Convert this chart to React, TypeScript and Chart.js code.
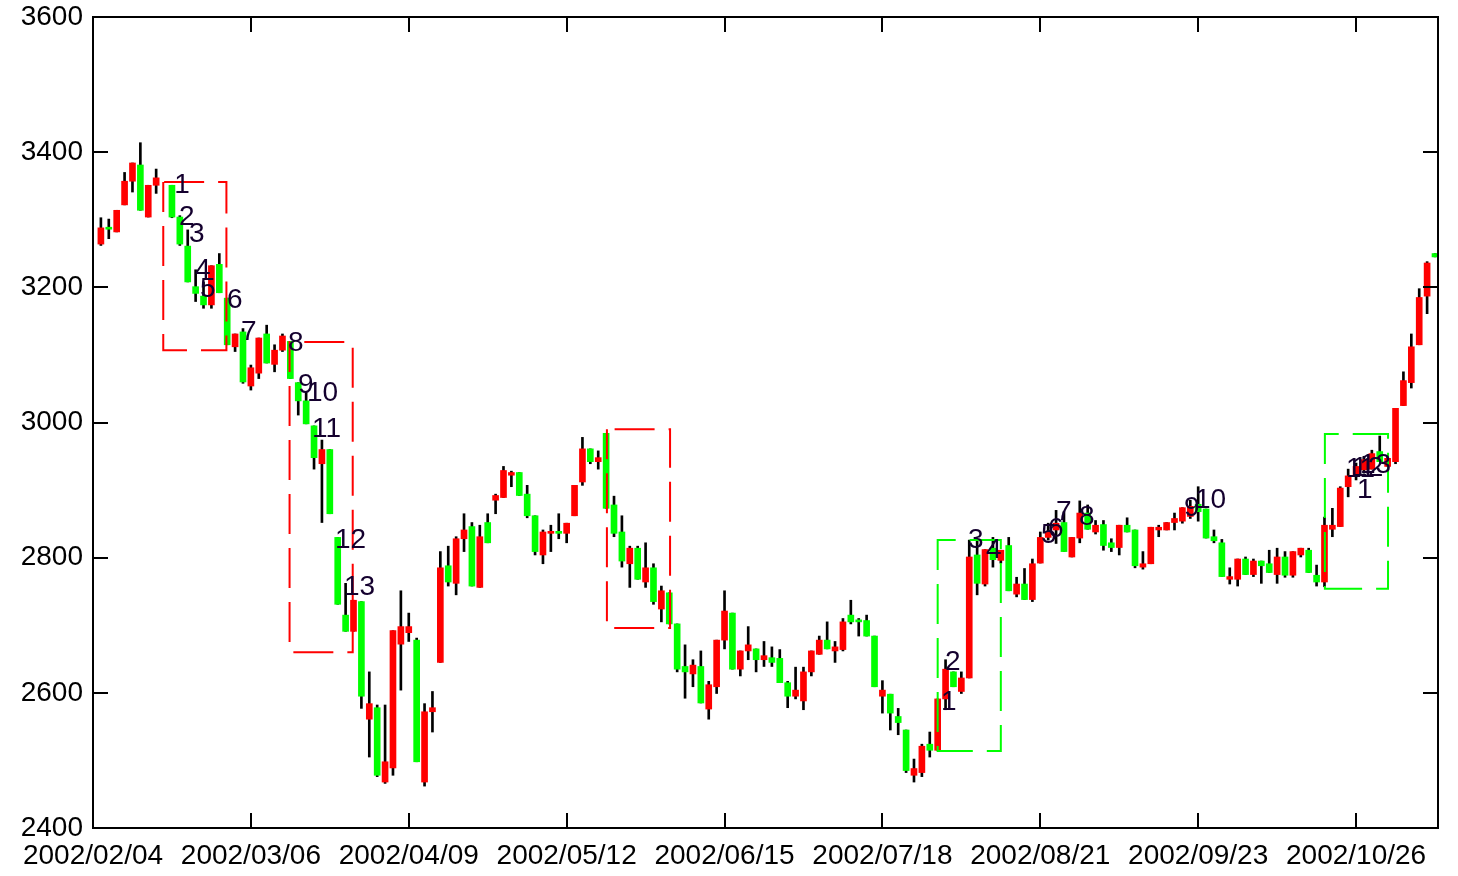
import React, { useEffect, useRef } from 'react';
import { Chart, registerables } from 'chart.js';

Chart.register(...registerables);

// ---- data ----
const xTickPositions = [0, 20, 40, 60, 80, 100, 120, 140, 160];
const xTickLabels = [
  '2002/02/04', '2002/03/06', '2002/04/09', '2002/05/12', '2002/06/15',
  '2002/07/18', '2002/08/21', '2002/09/23', '2002/10/26',
];

// bars 1..170 (index 0 = bar 1); null = no bar
const opens: (number | null)[] = [
  3264, 3288, 3282, 3322, 3357, 3381, 3304, 3351, null, 3351,
  3304, 3261, 3201, 3187, 3174, 3234, 3184, 3112, 3134, 3054,
  3073, 3131, 3086, 3107, 3120, 3059, 3032, 2995, 2939, 2960,
  2830, 2715, 2691, 2735, 2561, 2578, 2468, 2489, 2672, 2689,
  2678, 2468, 2572, 2645, 2788, 2762, 2828, 2846, 2756, 2852,
  2885, 2889, 2922, 2926, 2894, 2862, 2804, 2836, 2838, 2836,
  2862, 2912, 2961, 2942, 2984, 2878, 2838, 2791, 2814, 2764,
  2785, 2724, 2748, 2702, 2639, 2628, 2639, 2576, 2609, 2678,
  2718, 2635, 2662, 2665, 2649, 2652, 2651, 2615, 2595, 2588,
  2631, 2657, 2678, 2662, 2664, 2715, 2707, 2707, 2684, 2595,
  2598, 2565, 2545, 2478, 2482, 2524, 2515, 2591, 2631, 2602,
  2622, 2804, 2761, 2814, 2796, 2818, 2746, 2761, 2738, 2792,
  2830, 2841, 2852, 2801, 2829, 2866, 2838, 2849, 2822, 2815,
  2848, 2841, 2786, 2791, 2841, 2841, 2852, 2854, 2861, 2879,
  2872, 2831, 2822, 2768, 2768, 2798, 2775, 2795, 2791, 2775,
  2801, 2774, 2804, 2811, 2774, 2764, 2842, 2846, 2905, 2921,
  2930, 2931, 2957, 2935, 2942, 3025, 3059, 3115, 3187, 3250,
];
const highs: (number | null)[] = [
  3303, 3301, 3314, 3370, 3384, 3414, 3351, 3375, null, 3351,
  3306, 3285, 3226, 3208, 3232, 3250, 3184, 3131, 3139, 3085,
  3125, 3144, 3115, 3131, 3120, 3059, 3046, 2995, 2974, 2960,
  2830, 2762, 2737, 2735, 2631, 2582, 2582, 2692, 2751, 2718,
  2681, 2584, 2602, 2809, 2817, 2831, 2865, 2852, 2848, 2865,
  2894, 2935, 2928, 2926, 2907, 2862, 2841, 2848, 2865, 2851,
  2907, 2978, 2961, 2958, 2984, 2891, 2862, 2817, 2817, 2822,
  2791, 2758, 2748, 2702, 2671, 2649, 2662, 2617, 2678, 2751,
  2718, 2662, 2698, 2665, 2676, 2668, 2664, 2617, 2638, 2638,
  2662, 2684, 2705, 2676, 2710, 2737, 2710, 2715, 2684, 2618,
  2598, 2577, 2545, 2502, 2524, 2542, 2591, 2649, 2631, 2631,
  2826, 2826, 2812, 2830, 2811, 2830, 2771, 2784, 2798, 2838,
  2851, 2870, 2868, 2830, 2884, 2878, 2855, 2855, 2828, 2848,
  2859, 2841, 2809, 2845, 2848, 2852, 2866, 2874, 2885, 2905,
  2872, 2841, 2827, 2785, 2798, 2801, 2798, 2795, 2811, 2814,
  2809, 2809, 2814, 2814, 2789, 2860, 2873, 2905, 2931, 2940,
  2950, 2959, 2980, 2950, 3021, 3075, 3131, 3198, 3238, 3250,
];
const lows: (number | null)[] = [
  3262, 3272, 3282, 3322, 3341, 3314, 3304, 3339, null, 3303,
  3262, 3208, 3179, 3169, 3169, 3192, 3115, 3105, 3058, 3048,
  3065, 3088, 3075, 3105, 3065, 3011, 2998, 2931, 2852, 2865,
  2731, 2691, 2691, 2577, 2505, 2476, 2466, 2478, 2604, 2676,
  2498, 2462, 2542, 2645, 2758, 2745, 2809, 2758, 2756, 2822,
  2865, 2889, 2905, 2892, 2859, 2804, 2791, 2809, 2828, 2822,
  2862, 2907, 2939, 2931, 2873, 2831, 2786, 2756, 2768, 2756,
  2731, 2705, 2702, 2631, 2592, 2609, 2585, 2561, 2599, 2665,
  2635, 2625, 2649, 2631, 2639, 2639, 2615, 2578, 2591, 2575,
  2625, 2657, 2665, 2645, 2662, 2702, 2684, 2684, 2609, 2570,
  2545, 2538, 2482, 2468, 2476, 2505, 2515, 2575, 2609, 2599,
  2622, 2745, 2758, 2786, 2792, 2751, 2742, 2738, 2735, 2792,
  2826, 2821, 2809, 2801, 2822, 2842, 2835, 2811, 2809, 2804,
  2838, 2785, 2783, 2791, 2831, 2841, 2841, 2851, 2858, 2854,
  2829, 2822, 2772, 2761, 2758, 2775, 2772, 2762, 2778, 2762,
  2771, 2771, 2801, 2778, 2758, 2757, 2831, 2846, 2890, 2915,
  2925, 2931, 2942, 2935, 2939, 3025, 3051, 3115, 3161, 3245,
];
const closes: (number | null)[] = [
  3288, 3286, 3314, 3357, 3384, 3314, 3351, 3362, null, 3304,
  3264, 3208, 3191, 3174, 3232, 3192, 3115, 3131, 3060, 3081,
  3125, 3088, 3107, 3128, 3065, 3032, 2998, 2948, 2960, 2865,
  2731, 2691, 2737, 2595, 2584, 2478, 2498, 2692, 2698, 2698,
  2498, 2572, 2578, 2785, 2764, 2828, 2841, 2758, 2831, 2822,
  2892, 2929, 2926, 2892, 2862, 2809, 2838, 2838, 2836, 2851,
  2907, 2961, 2942, 2948, 2873, 2836, 2795, 2814, 2768, 2785,
  2735, 2751, 2702, 2635, 2631, 2641, 2585, 2612, 2678, 2721,
  2635, 2662, 2671, 2649, 2655, 2645, 2615, 2595, 2604, 2631,
  2662, 2678, 2665, 2668, 2705, 2705, 2705, 2684, 2609, 2604,
  2570, 2556, 2485, 2488, 2521, 2515, 2591, 2635, 2609, 2622,
  2801, 2762, 2812, 2797, 2811, 2751, 2761, 2738, 2791, 2830,
  2838, 2851, 2809, 2830, 2866, 2842, 2848, 2818, 2815, 2848,
  2838, 2788, 2791, 2845, 2845, 2852, 2858, 2874, 2876, 2868,
  2829, 2825, 2772, 2772, 2798, 2775, 2795, 2788, 2778, 2801,
  2774, 2809, 2814, 2778, 2764, 2848, 2848, 2903, 2921, 2935,
  2945, 2954, 2942, 2947, 3021, 3062, 3112, 3185, 3236, 3245,
];

// dashed boxes: bar range and price range
const boxStartBar = [8.9, 24.9, 65.1, 107.0, 156.05];
const boxEndBar = [16.9, 32.9, 73.1, 115.0, 164.05];
const boxLowPrice = [3107, 2660, 2696, 2514, 2754];
const boxHighPrice = [3356, 3119, 2990, 2826, 2983];
const boxColors = ['#FF0000', '#FF0000', '#FF0000', '#00FF00', '#00FF00'];

// count labels
const countTexts = [
  '1', '2', '3', '4', '5', '6', '7', '8', '9', '10', '11', '12', '13',
  '1', '2', '3', '4', '5', '6', '7', '8', '9', '10', '11', '12', '13', '1',
];
const countBars = [
  10.3, 10.89, 12.16, 12.92, 13.55, 16.97, 18.75, 24.7, 25.97, 27.11, 27.74, 30.64, 31.78,
  107.42, 107.93, 110.84, 113.12, 120.09, 120.98, 121.99, 124.9, 138.21, 139.6, 158.74, 159.5, 160.5, 160.12,
];
const countPrices = [
  3339, 3292, 3267, 3214, 3186, 3169, 3122, 3106, 3044, 3032, 2978, 2814, 2745,
  2575, 2634, 2814, 2800, 2822, 2831, 2856, 2848, 2862, 2874, 2919, 2921, 2925, 2888,
];

const yMin = 2400;
const yMax = 3600;
const yStep = 200;

const FONT = '"Liberation Sans", Arial, sans-serif';
const UP = '#FF0000';
const DOWN = '#00FF00';

const overlay = {
  id: 'overlay',
  afterDatasetsDraw(chart: any) {
    const { ctx, chartArea: a, scales } = chart;
    const x = scales.x;
    const y = scales.y;
    ctx.save();
    ctx.beginPath();
    ctx.rect(a.left, a.top, a.right - a.left, a.bottom - a.top);
    ctx.clip();
    // dashed boxes
    ctx.lineWidth = 2;
    ctx.setLineDash([40, 14]);
    ctx.lineDashOffset = 10;
    for (let i = 0; i < boxStartBar.length; i++) {
      const l = x.getPixelForValue(boxStartBar[i]);
      const r = x.getPixelForValue(boxEndBar[i]);
      const t = y.getPixelForValue(boxHighPrice[i]);
      const b = y.getPixelForValue(boxLowPrice[i]);
      ctx.strokeStyle = boxColors[i];
      ctx.beginPath();
      ctx.moveTo(l, t);
      ctx.lineTo(l, b);
      ctx.lineTo(r, b);
      ctx.lineTo(r, t);
      ctx.closePath();
      ctx.stroke();
    }
    ctx.setLineDash([]);
    // count labels
    ctx.font = '28px ' + FONT;
    ctx.fillStyle = '#14002e';
    ctx.textAlign = 'left';
    ctx.textBaseline = 'alphabetic';
    for (let i = 0; i < countTexts.length; i++) {
      ctx.fillText(countTexts[i], x.getPixelForValue(countBars[i]), y.getPixelForValue(countPrices[i]));
    }
    ctx.restore();

    // frame + inner ticks
    ctx.save();
    ctx.strokeStyle = '#000000';
    ctx.lineWidth = 2;
    ctx.strokeRect(a.left, a.top, a.right - a.left, a.bottom - a.top);
    const tl = 15;
    ctx.beginPath();
    for (let v = yMin + yStep; v < yMax; v += yStep) {
      const py = Math.round(y.getPixelForValue(v));
      ctx.moveTo(a.left, py);
      ctx.lineTo(a.left + tl, py);
      ctx.moveTo(a.right - tl, py);
      ctx.lineTo(a.right, py);
    }
    for (let i = 1; i < xTickPositions.length; i++) {
      const px = Math.round(x.getPixelForValue(xTickPositions[i]));
      ctx.moveTo(px, a.bottom);
      ctx.lineTo(px, a.bottom - tl);
      ctx.moveTo(px, a.top);
      ctx.lineTo(px, a.top + tl);
    }
    ctx.stroke();
    ctx.restore();
  },
};

export default function App() {
  const ref = useRef<HTMLCanvasElement | null>(null);

  useEffect(() => {
    if (!ref.current) return;
    const bodies: any[] = [];
    const wicks: any[] = [];
    const colors: string[] = [];
    for (let i = 0; i < opens.length; i++) {
      const o = opens[i];
      const c = closes[i];
      const h = highs[i];
      const l = lows[i];
      if (o === null || c === null || h === null || l === null) continue;
      bodies.push({ x: i + 1, y: [o, c] });
      wicks.push({ x: i + 1, y: [l, h] });
      colors.push(c >= o ? UP : DOWN);
    }
    const chart = new Chart(ref.current, {
      type: 'bar',
      data: {
        datasets: [
          {
            label: 'body',
            data: bodies,
            backgroundColor: colors,
            borderWidth: 0,
            barThickness: 6,
            minBarLength: 2,
            grouped: false,
          } as any,
          {
            label: 'wick',
            data: wicks,
            backgroundColor: '#000000',
            borderWidth: 0,
            barThickness: 2,
            grouped: false,
          } as any,
        ],
      },
      options: {
        animation: false,
        responsive: false,
        maintainAspectRatio: false,
        layout: { padding: { top: 17, right: 20, left: 0, bottom: 0 } },
        plugins: { legend: { display: false }, tooltip: { enabled: false } },
        scales: {
          x: {
            type: 'linear',
            min: 0,
            max: 170.38,
            offset: false,
            grid: { display: false },
            border: { display: false },
            afterBuildTicks: (s: any) => {
              s.ticks = xTickPositions.map((v) => ({ value: v }));
            },
            afterFit: (s: any) => {
              s.height = 48;
              s.paddingLeft = 0;
              s.paddingRight = 0;
            },
            ticks: {
              autoSkip: false,
              maxRotation: 0,
              minRotation: 0,
              padding: 3,
              color: '#000000',
              font: { family: FONT, size: 28 },
              callback: (_v: any, i: number) => xTickLabels[i],
            },
          },
          y: {
            type: 'linear',
            min: yMin,
            max: yMax,
            grid: { display: false },
            border: { display: false },
            afterFit: (s: any) => {
              s.width = 93;
              s.paddingTop = 0;
              s.paddingBottom = 0;
            },
            ticks: {
              stepSize: yStep,
              padding: 2,
              color: '#000000',
              font: { family: FONT, size: 28 },
              callback: (v: any) => String(v),
            },
          },
        },
      } as any,
      plugins: [overlay],
    });
    return () => chart.destroy();
  }, []);

  return (
    <div style={{ position: 'absolute', left: 0, top: 0, width: 1458, height: 876, background: '#ffffff' }}>
      <canvas ref={ref} width={1458} height={876} style={{ display: 'block', width: 1458, height: 876 }} />
    </div>
  );
}
